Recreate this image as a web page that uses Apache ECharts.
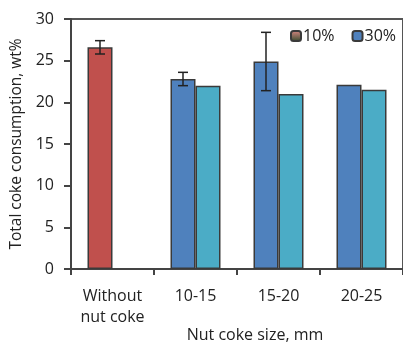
<!DOCTYPE html>
<html>
<head>
<meta charset="utf-8">
<script src="https://cdn.jsdelivr.net/npm/echarts@6/dist/echarts.min.js"></script>
<style>html,body{margin:0;padding:0;background:#fff}#c{width:403px;height:346px}</style>
</head>
<body>
<div id="c"></div>
<script>
var categories = ['Without\nnut coke', '10-15', '15-20', '20-25'];
var series10 = [26.6, 22.8, 24.9, 22.1];
var series30 = [null, 22.0, 21.0, 21.5];
var errLow = [25.8, 22.0, 21.4, null];
var errHigh = [27.4, 23.6, 28.4, null];
var yTicks = [0, 5, 10, 15, 20, 25, 30];

var FONT = 'Open Sans';
var BAR_W = 25;
var chart = echarts.init(document.getElementById('c'), null, {renderer: 'canvas'});

var errData = categories.map(function (c, i) { return [i, errLow[i], errHigh[i]]; })
  .filter(function (d) { return d[1] != null; });

chart.setOption({
  animation: false,
  textStyle: {fontFamily: FONT},
  grid: {left: 71, top: 19, right: -8, bottom: 77, show: true, borderColor: '#555', borderWidth: 2},
  legend: {
    left: 290, top: 28, padding: 0, width: 113, orient: 'horizontal',
    itemWidth: 10, itemHeight: 10, itemGap: 17,
    textStyle: {fontFamily: FONT, fontSize: 16, color: '#222', padding: [0, 0, 0, -3]},
    data: [
      {name: '10%', itemStyle: {color: {type: 'linear', x: 0, y: 0, x2: 0, y2: 1, colorStops: [{offset: 0, color: '#e08a86'}, {offset: 1, color: '#2f4a2a'}]}}},
      {name: '30%', itemStyle: {color: '#4f81bd'}}
    ]
  },
  xAxis: {
    type: 'category', data: categories,
    axisLine: {lineStyle: {color: '#444', width: 2}},
    axisTick: {show: true, interval: 0, length: 6, lineStyle: {color: '#444', width: 2}},
    axisLabel: {color: '#222', fontSize: 16, lineHeight: 21, margin: 17, interval: 0, fontFamily: FONT}
  },
  yAxis: {
    type: 'value', min: 0, max: 30, interval: 5,
    name: 'Total coke consumption, wt%', nameLocation: 'middle', nameGap: 46,
    nameTextStyle: {fontSize: 15.5, color: '#222', fontFamily: FONT},
    splitLine: {show: false},
    axisLine: {show: true, lineStyle: {color: '#444', width: 2}},
    axisTick: {show: true, length: 7, lineStyle: {color: '#444', width: 2}},
    axisLabel: {color: '#222', fontSize: 16, margin: 17, fontFamily: FONT,
      formatter: function (v) { return yTicks.indexOf(v) >= 0 ? String(v) : ''; }}
  },
  title: {
    text: 'Nut coke size, mm', left: 255, top: 327, padding: 0, textAlign: 'center',
    textStyle: {fontFamily: FONT, fontSize: 16, fontWeight: 'normal', color: '#222'}
  },
  series: [
    {
      name: '10%', type: 'bar', barWidth: BAR_W, barGap: '0%',
      itemStyle: {color: '#4f81bd', borderColor: '#3a3a3a', borderWidth: 1.5},
      data: series10.map(function (v, i) {
        return i === 0 ? {value: v, itemStyle: {color: '#c0504d'}} : v;
      })
    },
    {
      name: '30%', type: 'bar', barWidth: BAR_W, barGap: '0%',
      itemStyle: {color: '#4bacc6', borderColor: '#3a3a3a', borderWidth: 1.5},
      data: series30
    },
    {
      name: 'err', type: 'custom', z: 10,
      renderItem: function (params, api) {
        var i = api.value(0);
        var lo = api.coord([i, api.value(1)]);
        var hi = api.coord([i, api.value(2)]);
        var x = lo[0] - BAR_W / 2;
        var cap = 5;
        var st = {stroke: '#222', lineWidth: 1.5};
        return {type: 'group', children: [
          {type: 'line', shape: {x1: x, y1: lo[1], x2: x, y2: hi[1]}, style: st},
          {type: 'line', shape: {x1: x - cap, y1: lo[1], x2: x + cap, y2: lo[1]}, style: st},
          {type: 'line', shape: {x1: x - cap, y1: hi[1], x2: x + cap, y2: hi[1]}, style: st}
        ]};
      },
      data: errData
    }
  ]
});
</script>
</body>
</html>
